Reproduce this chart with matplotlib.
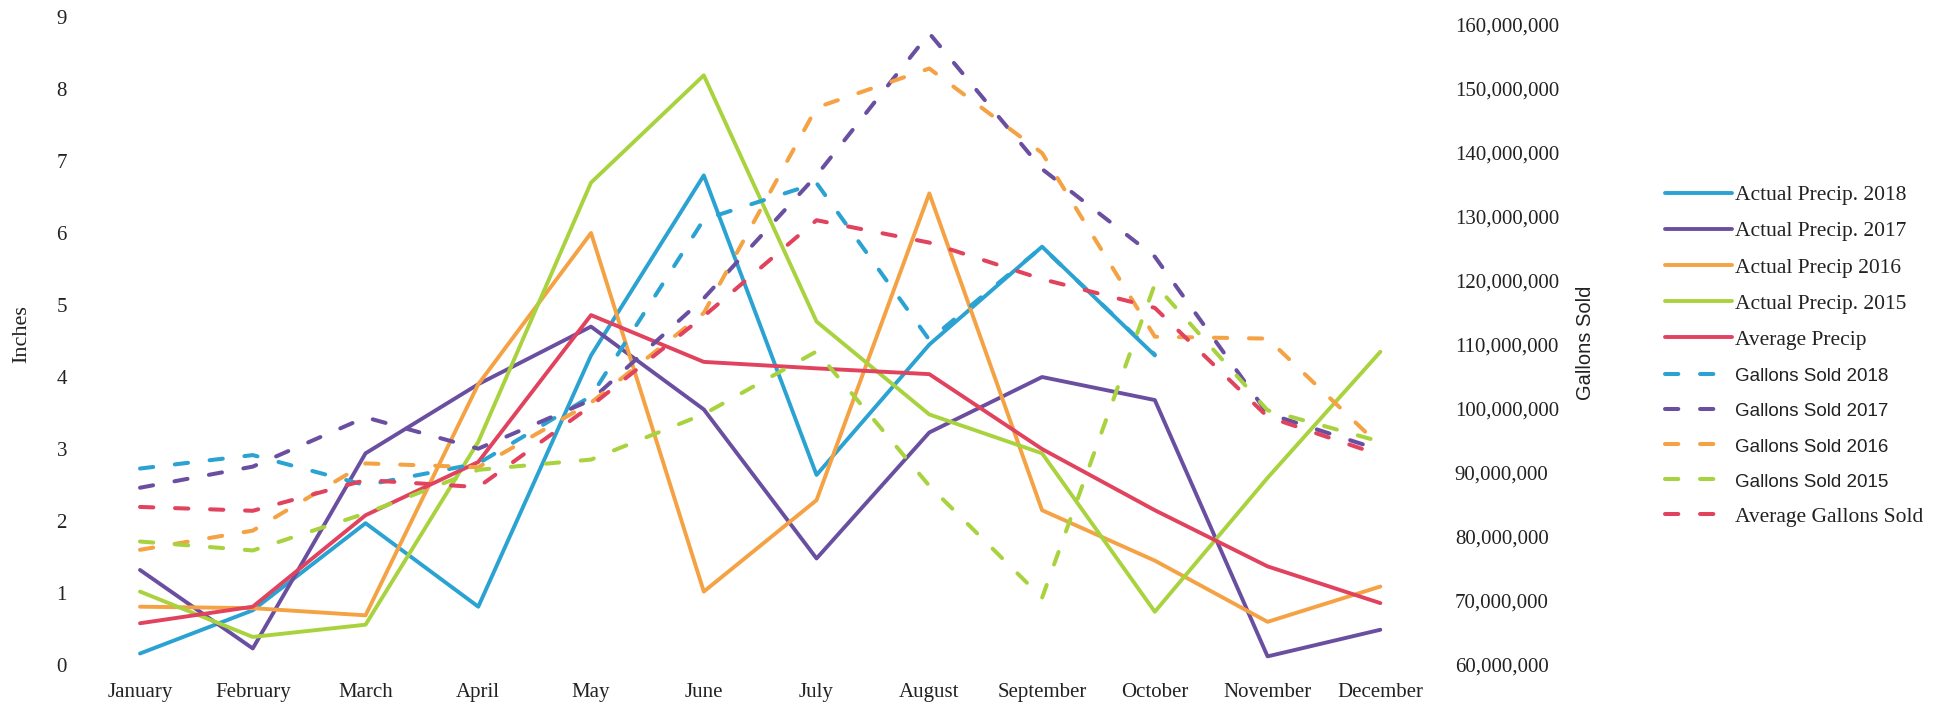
import numpy as np
import matplotlib
matplotlib.use("Agg")
import matplotlib.pyplot as plt
from matplotlib.ticker import FuncFormatter

plt.rcParams['font.family'] = ['Liberation Serif', 'DejaVu Serif']

# Data-
months = ["January", "February", "March", "April", "May", "June", "July",
          "August", "September", "October", "November", "December"]
nan = np.nan

# inches
precip_2018 = [0.16, 0.76, 1.97, 0.81, 4.3, 6.8, 2.64, 4.45, 5.81, 4.3, nan, nan]
precip_2017 = [1.32, 0.23, 2.94, 3.9, 4.7, 3.55, 1.48, 3.23, 4.0, 3.68, 0.12, 0.49]
precip_2016 = [0.81, 0.79, 0.69, 3.9, 6.0, 1.02, 2.29, 6.55, 2.15, 1.45, 0.6, 1.09]
precip_2015 = [1.02, 0.39, 0.56, 3.1, 6.7, 8.19, 4.77, 3.48, 2.94, 0.74, 2.6, 4.35]
precip_avg = [0.58, 0.81, 2.08, 2.82, 4.86, 4.21, 4.12, 4.04, 3.0, 2.15, 1.37, 0.86]

# gallons, millions
gallons_2018 = [90.7, 92.8, 88.1, 91.5, 102.0, 129.6, 135.3, 110.8, 125.3, 108.5, nan, nan]
gallons_2017 = [87.7, 91.0, 98.7, 93.8, 101.4, 117.3, 136.5, 158.7, 137.5, 123.8, 99.3, 93.6]
gallons_2016 = [78.0, 81.0, 91.5, 90.9, 101.0, 115.0, 147.1, 153.2, 140.0, 111.3, 111.0, 94.2]
gallons_2015 = [79.3, 77.9, 83.7, 90.5, 92.1, 99.2, 109.0, 88.0, 70.5, 119.5, 99.8, 94.9]
gallons_avg = [84.7, 84.1, 88.9, 87.8, 100.5, 114.5, 129.5, 126.0, 120.3, 115.8, 98.8, 92.8]

precip_labels = ["Actual Precip. 2018", "Actual Precip. 2017", "Actual Precip 2016",
                 "Actual Precip. 2015", "Average Precip"]
gallons_labels = ["Gallons Sold 2018", "Gallons Sold 2017", "Gallons Sold 2016",
                  "Gallons Sold 2015", "Average Gallons Sold"]
colors = ["#2AA2D2", "#6A4FA1", "#F4A243", "#A8D33F", "#E1425E"]

x = np.arange(len(months))

fig = plt.figure(figsize=(19.36, 7.05), dpi=100)
ax = fig.add_axes([0.0432, 0.0567, 0.6989, 0.9192])
ax2 = ax.twinx()

# Solid lines - precipitation (left axis)
for vals, lab, c in zip([precip_2018, precip_2017, precip_2016, precip_2015, precip_avg],
                        precip_labels, colors):
    ax.plot(x, vals, color=c, lw=2.8, label=lab, solid_capstyle='round',
            solid_joinstyle='round')

# Dashed lines - gallons (right axis)
for vals, lab, c in zip([gallons_2018, gallons_2017, gallons_2016, gallons_2015, gallons_avg],
                        gallons_labels, colors):
    ax2.plot(x, np.array(vals) * 1e6, color=c, lw=2.9, label=lab,
             linestyle=(0, (3.3, 5.4)), dash_capstyle='round')

ax.set_xlim(-0.5, 11.5)
ax.set_ylim(0, 9)
ax.set_yticks(range(0, 10))
ax2.set_ylim(60e6, 161.25e6)
ax2.set_yticks(np.arange(60e6, 160e6 + 1, 10e6))
ax2.yaxis.set_major_formatter(FuncFormatter(lambda v, p: "{:,.0f}".format(v)))

ax.set_xticks(x)
ax.set_xticklabels(months)

for a in (ax, ax2):
    for s in a.spines.values():
        s.set_visible(False)
    a.tick_params(length=0, labelsize=15, colors="#222222")
ax.tick_params(axis='y', pad=12)
ax.tick_params(axis='x', pad=13)
ax2.tick_params(axis='y', pad=13)
for t in ax2.get_yticklabels():
    t.set_horizontalalignment('left')

ax.set_ylabel("Inches", fontsize=16, color="#222222")
ax.yaxis.set_label_coords(-0.0386, 0.51)
ax2.set_ylabel("Gallons Sold", fontsize=14.5, color="#222222",
               family=['Liberation Sans', 'DejaVu Sans'])
ax2.yaxis.set_label_coords(1.103, 0.497)

# Legend-
h1, l1 = ax.get_legend_handles_labels()
h2, l2 = ax2.get_legend_handles_labels()
leg = fig.legend(h1 + h2, l1 + l2, loc='center left', bbox_to_anchor=(0.860, 0.495),
                 frameon=False, fontsize=15.5, handlelength=3.1, handletextpad=0.15,
                 labelspacing=0.75, borderpad=0, borderaxespad=0)
for t in leg.get_texts():
    t.set_color("#222222")
    if t.get_text().startswith("Gallons"):
        t.set_family(['Liberation Sans', 'DejaVu Sans'])
        t.set_fontsize(13.5)

fig.savefig("out.png", dpi=100)
